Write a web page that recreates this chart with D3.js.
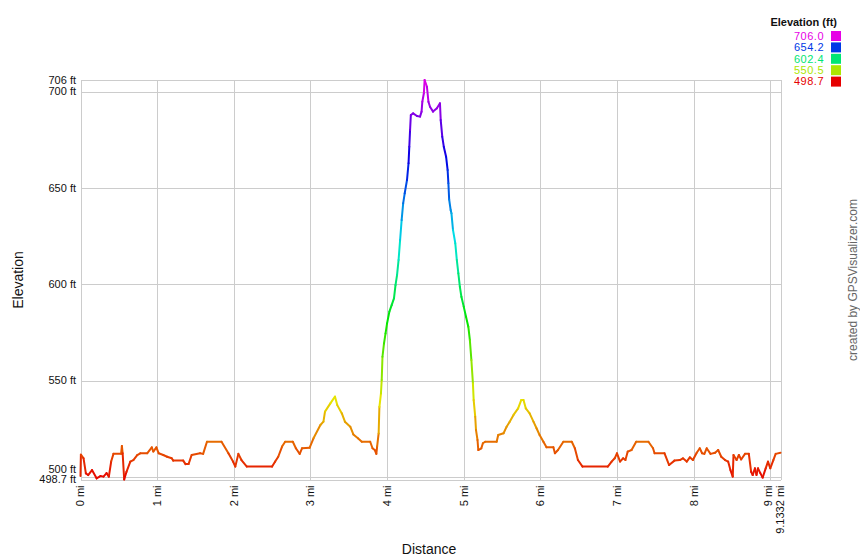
<!DOCTYPE html>
<html>
<head>
<meta charset="utf-8">
<script src="https://cdn.jsdelivr.net/npm/d3@7/dist/d3.min.js"></script>
<style>
  html, body { margin: 0; padding: 0; background: #fff; }
  svg { display: block; font-family: "Liberation Sans", Arial, sans-serif; }
</style>
</head>
<body>
<svg id="chart" width="860" height="560"></svg>
<script>
// ---- Data ----
const distMi = [0.00,0.005,0.04,0.07,0.10,0.15,0.21,0.26,0.30,0.34,0.37,0.40,0.43,0.53,0.54,0.55,0.57,0.60,0.65,0.69,
  0.74,0.78,0.87,0.93,0.95,0.99,1.02,1.08,1.13,1.19,1.21,1.34,1.37,1.41,1.45,1.56,1.60,1.65,1.84,1.93,
  1.99,2.02,2.06,2.10,2.17,2.50,2.54,2.58,2.63,2.67,2.77,2.81,2.86,2.89,2.99,3.04,3.13,3.17,3.19,3.26,
  3.32,3.35,3.41,3.45,3.52,3.56,3.62,3.67,3.78,3.81,3.84,3.86,3.87,3.89,3.90,3.92,3.93,3.94,3.96,3.98,
  4.00,4.03,4.06,4.09,4.11,4.13,4.15,4.17,4.19,4.21,4.23,4.26,4.28,4.29,4.30,4.31,4.34,4.39,4.43,4.45,
  4.46,4.48,4.49,4.52,4.54,4.56,4.60,4.65,4.69,4.70,4.72,4.74,4.77,4.79,4.80,4.81,4.83,4.84,4.86,4.89,
  4.91,4.93,4.95,4.97,5.00,5.03,5.06,5.08,5.10,5.12,5.13,5.15,5.16,5.18,5.19,5.23,5.25,5.28,5.43,5.45,
  5.52,5.56,5.60,5.65,5.71,5.75,5.78,5.81,5.86,5.91,5.95,5.99,6.04,6.08,6.17,6.19,6.23,6.30,6.41,6.45,
  6.49,6.55,6.88,6.93,6.97,7.00,7.04,7.08,7.11,7.14,7.19,7.25,7.41,7.47,7.49,7.62,7.68,7.75,7.82,7.86,
  7.91,7.95,7.99,8.04,8.08,8.11,8.14,8.17,8.22,8.28,8.32,8.36,8.41,8.45,8.48,8.51,8.52,8.56,8.59,8.62,
  8.67,8.72,8.75,8.77,8.80,8.82,8.84,8.87,8.90,8.94,8.97,9.00,9.04,9.07,9.1332];
const elevFt = [500.5,511.6,509.7,501.9,501.0,503.6,499.3,500.5,500.2,502.0,500.2,508.0,512.0,512.0,516.1,512.3,498.7,502.7,508.0,508.8,
  511.4,512.3,512.3,515.4,513.2,515.4,512.3,511.4,510.5,509.7,508.5,508.5,506.7,506.7,511.4,512.3,512.0,518.3,518.3,512.3,
  508.0,505.4,512.0,508.8,505.4,505.4,508.0,510.5,515.8,518.3,518.3,514.9,512.0,514.9,515.2,520.1,527.0,528.7,533.9,538.2,
  541.7,537.3,533.0,528.7,526.1,522.1,520.1,518.3,518.3,514.9,514.0,512.0,515.8,522.6,536.4,543.3,550.3,562.4,569.3,574.5,
  579.7,585.8,589.2,592.7,599.6,604.8,612.6,623.0,633.3,642.0,647.2,654.1,662.8,671.4,680.0,687.8,688.7,687.3,687.0,689.6,
  694.7,699.1,706.0,702.5,694.7,692.1,689.6,691.3,693.9,685.2,676.6,671.4,666.2,659.3,652.4,644.0,638.5,636.8,628.2,621.3,
  612.6,605.7,598.7,593.5,588.4,583.2,578.0,571.1,560.7,548.6,539.9,531.3,524.4,519.2,514.0,514.9,517.5,518.3,518.3,521.8,
  522.7,526.1,528.7,532.2,535.6,539.9,539.9,535.6,533.0,528.7,525.3,521.8,518.3,515.4,515.4,512.3,514.0,518.3,518.3,514.9,
  508.8,505.4,505.4,508.0,509.7,512.3,508.0,509.7,508.8,513.2,514.0,518.3,518.3,514.9,512.3,512.3,506.2,508.5,508.8,509.7,
  508.0,510.2,508.8,512.6,514.9,512.3,512.0,514.9,512.0,512.6,514.0,510.5,508.8,508.0,503.6,500.2,511.4,508.8,511.4,509.1,
  512.0,512.0,502.7,501.0,504.5,501.0,504.5,502.0,499.7,504.5,508.0,504.5,508.8,512.0,512.6];

const yTicks = [706, 700, 650, 600, 550, 500, 498.7];
const yTickLabels = ["706 ft", "700 ft", "650 ft", "600 ft", "550 ft", "500 ft", "498.7 ft"];
const xTicks = [0, 1, 2, 3, 4, 5, 6, 7, 8, 9, 9.1332];
const xTickLabels = ["0 mi", "1 mi", "2 mi", "3 mi", "4 mi", "5 mi", "6 mi", "7 mi", "8 mi", "9 mi", "9.1332 mi"];
const legendTitle = "Elevation (ft)";
const legendValues = [706.0, 654.2, 602.4, 550.5, 498.7];
const elevMin = 498.7, elevMax = 706.0, distMax = 9.1332;

// ---- Layout ----
const svg = d3.select("#chart");
const plot = { left: 80.5, right: 780.5, top: 80, bottom: 479.5 };

const x = d3.scaleLinear().domain([0, distMax]).range([plot.left, plot.right]);
const y = d3.scaleLinear().domain([elevMin, elevMax]).range([plot.bottom, plot.top]);
const hue = d3.scaleLinear().domain([elevMin, elevMax]).range([0, 300]).clamp(true);
const color = v => d3.hsl(hue(v), 1, 0.45).formatHex();

// gridlines
const grid = svg.append("g").attr("stroke", "#cccccc").attr("stroke-width", 1).attr("shape-rendering", "crispEdges");
grid.selectAll("line.h").data(yTicks).join("line")
  .attr("x1", plot.left).attr("x2", plot.right)
  .attr("y1", d => Math.round(y(d)) + 0.5).attr("y2", d => Math.round(y(d)) + 0.5);
grid.selectAll("line.v").data(xTicks).join("line")
  .attr("y1", plot.top).attr("y2", plot.bottom)
  .attr("x1", d => Math.round(x(d)) + 0.5).attr("x2", d => Math.round(x(d)) + 0.5);

// y labels
const yLab = svg.append("g").attr("font-size", 11).attr("fill", "#111").attr("text-anchor", "end");
yTicks.forEach((t, i) => {
  let yy = y(t);
  if (t === 500) yy -= 8; // avoid overlap with the minimum label
  yLab.append("text").attr("x", 76).attr("y", yy).attr("dy", "0.35em").text(yTickLabels[i]);
});

// x labels (rotated)
const xLab = svg.append("g").attr("font-size", 11).attr("fill", "#111");
xTicks.forEach((t, i) => {
  let xx = x(t);
  if (t === 9) xx -= 2.5;
  xLab.append("text")
    .attr("transform", `translate(${xx},${plot.bottom + 6}) rotate(-90)`)
    .attr("text-anchor", "end").attr("dy", "0.35em")
    .text(xTickLabels[i]);
});

// profile line: coloured segments
const pts = distMi.map((d, i) => [d, elevFt[i]]);
const segs = d3.pairs(pts);
svg.append("g").attr("fill", "none").attr("stroke-width", 2).attr("stroke-linecap", "round")
  .selectAll("line").data(segs).join("line")
  .attr("x1", d => x(d[0][0])).attr("y1", d => y(d[0][1]))
  .attr("x2", d => x(d[1][0])).attr("y2", d => y(d[1][1]))
  .attr("stroke", d => color((d[0][1] + d[1][1]) / 2));

// axis titles
svg.append("text").attr("x", 429).attr("y", 554).attr("text-anchor", "middle")
  .attr("font-size", 14).attr("fill", "#111").text("Distance");
svg.append("text").attr("transform", "translate(23,280) rotate(-90)").attr("text-anchor", "middle")
  .attr("font-size", 14).attr("fill", "#111").text("Elevation");

// credit
svg.append("text").attr("transform", "translate(857,280) rotate(-90)").attr("text-anchor", "middle")
  .attr("font-size", 12).attr("fill", "#666").text("created by GPSVisualizer.com");

// legend
svg.append("text").attr("x", 837).attr("y", 25.5).attr("text-anchor", "end")
  .attr("font-size", 11).attr("font-weight", "bold").attr("fill", "#111").text(legendTitle);
const lg = svg.append("g");
legendValues.forEach((v, i) => {
  const yy = 36 + i * 11.4;
  lg.append("text").attr("x", 824).attr("y", yy).attr("dy", "0.35em").attr("text-anchor", "end")
    .attr("font-size", 11).attr("letter-spacing", 0.5)
    .attr("fill", color(v)).text(v.toFixed(1));
  lg.append("rect").attr("x", 831).attr("y", yy - 5).attr("width", 10).attr("height", 10)
    .attr("fill", color(v));
});
</script>
</body>
</html>
